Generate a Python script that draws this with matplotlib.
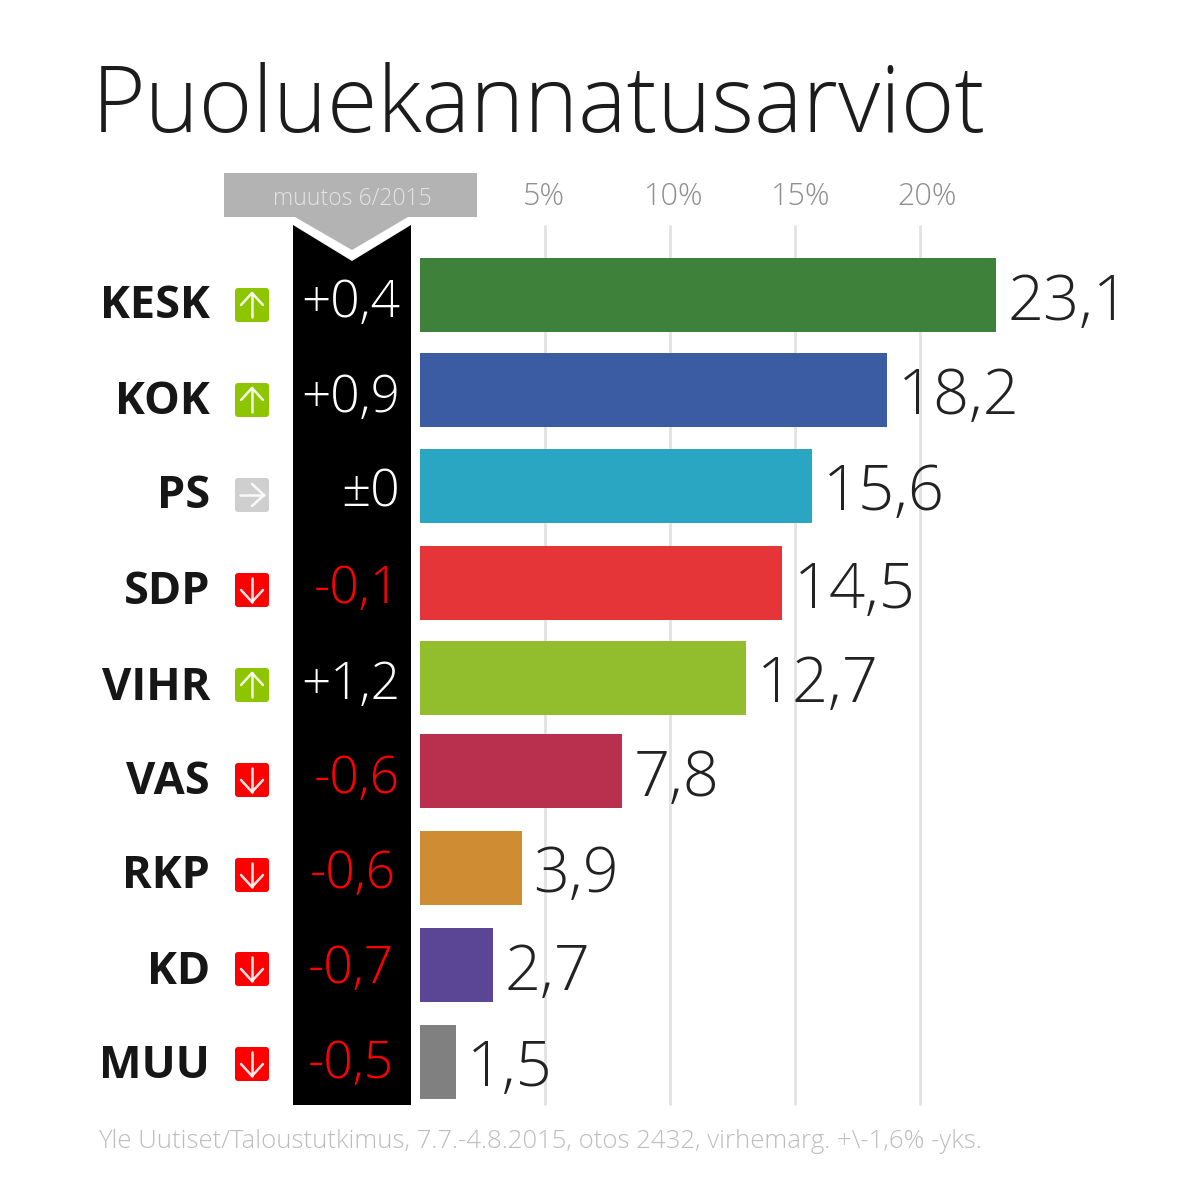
import matplotlib
matplotlib.use("Agg")
import matplotlib.pyplot as plt
from matplotlib.patches import Polygon, Rectangle, FancyBboxPatch

parties = ["KESK", "KOK", "PS", "SDP", "VIHR", "VAS", "RKP", "KD", "MUU"]
# bar lengths as read against the reference's % gridlines (they differ slightly from the printed labels)
bar_lengths = [23.05, 18.68, 15.68, 14.5, 13.04, 8.1, 4.1, 2.95, 1.45]
support_labels = ["23,1", "18,2", "15,6", "14,5", "12,7", "7,8", "3,9", "2,7", "1,5"]
changes = ["+0,4", "+0,9", "±0", "-0,1", "+1,2", "-0,6", "-0,6", "-0,7", "-0,5"]
directions = ["up", "up", "flat", "down", "up", "down", "down", "down", "down"]
bar_colors = ["#3e813b", "#3b5ba2", "#2aa6c2", "#e53538", "#92bd2d", "#b8304e", "#cf8c33", "#5a4694", "#808080"]
grid_ticks = [5, 10, 15, 20]
tick_labels = ["5%", "10%", "15%", "20%"]
title = "Puoluekannatusarviot"
source = "Yle Uutiset/Taloustutkimus, 7.7.-4.8.2015, otos 2432, virhemarg. +\\-1,6% -yks."
header = "muutos 6/2015"

W, H = 1199, 1202
row_y = [295, 390, 486, 583, 678, 771, 868, 965, 1062]
label_y = [306, 402, 497, 592, 688, 782, 877, 972, 1067]
icon_y = [305, 400, 495, 590, 685, 780, 875, 969, 1064]
change_y = [303, 398, 493, 589, 685, 779, 874, 969, 1064]
change_x = [400, 400, 400, 400, 400, 400, 396, 394, 394]
tick_shift = [-0.02, 0.15, 0.22, 0.28]
bar_h = 74
FONT = "Open Sans"
LIGHT = 300

fig = plt.figure(figsize=(W / 100, H / 100), dpi=100, facecolor="white")
ov = fig.add_axes([0, 0, 1, 1], zorder=2)
ov.set_xlim(0, W); ov.set_ylim(H, 0); ov.axis("off"); ov.patch.set_alpha(0)

x0 = 419.5
ax = fig.add_axes([x0 / W, 0, 1 - x0 / W, 1], zorder=1)
ax.set_xlim(0, (W - x0) / 25.03); ax.set_ylim(H, 0); ax.axis("off")
for t in grid_ticks:
    ax.plot([t, t], [225, 1105], color="#e2e2e2", lw=2, zorder=1, solid_capstyle="butt")
ax.barh(row_y, bar_lengths, height=bar_h, color=bar_colors, zorder=2)

for t, sh, lab in zip(grid_ticks, tick_shift, tick_labels):
    ax.text(t + sh, 197, lab, ha="center", va="center", fontsize=22, color="#8f8f8f", family=FONT, weight=LIGHT)
for y, v, lab in zip(row_y, bar_lengths, support_labels):
    ax.text(v + 0.45, y + 8, lab, ha="left", va="center", fontsize=45.5, color="#222222", family=FONT, weight=LIGHT)

ov.text(92, 108, title, ha="left", va="center", fontsize=66, color="#1c1c1c", family=FONT, weight=LIGHT)

# header tab and black change column
ov.add_patch(Rectangle((224, 173), 253, 44, color="#b3b3b3", lw=0))
ov.add_patch(Polygon([(295, 217), (408, 217), (352, 250)], closed=True, color="#b3b3b3", lw=0))
ov.add_patch(Polygon([(293, 225), (352, 261), (411, 225), (411, 1105), (293, 1105)], closed=True, color="black", lw=0))
ov.text(352, 199, header, ha="center", va="center", fontsize=16.5, color="#e4e4e4", family=FONT, weight=LIGHT)

icon = {"up": "#8dc600", "down": "#ff0000", "flat": "#cfcfcf"}
for p, ly, c, cx_r, chy, iy, d in zip(parties, label_y, changes, change_x, change_y, icon_y, directions):
    ov.text(210, ly, p, ha="right", va="center", fontsize=32.5, color="#161616", family=FONT, weight="bold")
    ov.text(cx_r, chy, c, ha="right", va="center", fontsize=37,
            color="#ff0000" if c.startswith("-") else "white", family=FONT, weight=LIGHT)
    cy, cx = iy, 252
    ov.add_patch(FancyBboxPatch((235, cy - 17), 34, 34, boxstyle="round,pad=0,rounding_size=3", color=icon[d], lw=0))
    s = 12
    if d == "up":
        segs = [((cx, cy + s), (cx, cy - s)), ((cx - 11, cy), (cx, cy - s)), ((cx + 11, cy), (cx, cy - s))]
    elif d == "down":
        segs = [((cx, cy - s), (cx, cy + s)), ((cx - 11, cy), (cx, cy + s)), ((cx + 11, cy), (cx, cy + s))]
    else:
        segs = [((cx - s, cy), (cx + s, cy)), ((cx, cy - 11), (cx + s, cy)), ((cx, cy + 11), (cx + s, cy))]
    for a, b in segs:
        ov.plot([a[0], b[0]], [a[1], b[1]], color="white", lw=1.8, alpha=0.9, solid_capstyle="round")

ov.text(98, 1141, source, ha="left", va="center", fontsize=18.5, color="#bdbdbd", family=FONT, weight=LIGHT)

fig.savefig("out.png", dpi=100, facecolor="white")
